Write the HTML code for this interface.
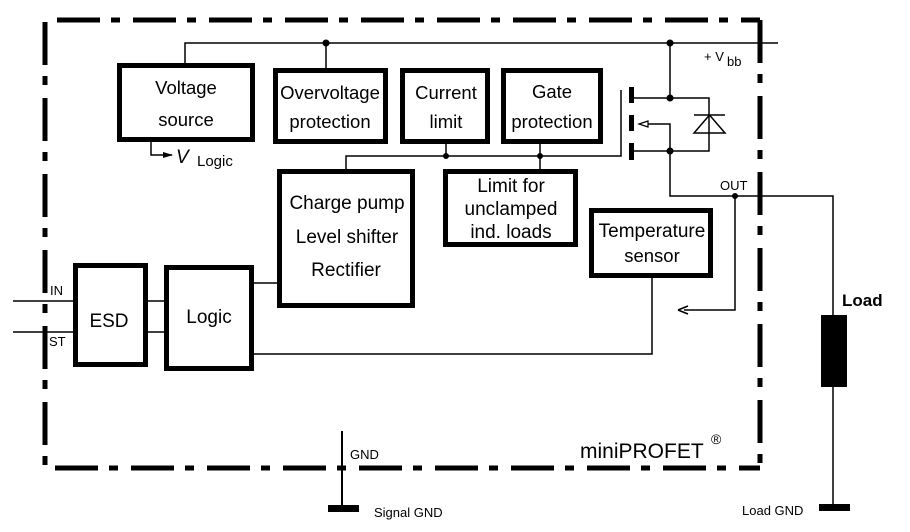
<!DOCTYPE html>
<html><head><meta charset="utf-8"><style>
html,body{margin:0;padding:0;background:#fff;}
svg{display:block;}
text{font-family:"Liberation Sans",sans-serif;fill:#000;}
</style></head><body>
<svg width="910" height="532" viewBox="0 0 910 532" xmlns="http://www.w3.org/2000/svg">
<defs>
<marker id="ah" markerWidth="10" markerHeight="8" refX="9" refY="4" orient="auto" markerUnits="userSpaceOnUse">
<path d="M0,1 L10,4 L0,7 Z" fill="#000"/>
</marker>
</defs>
<g stroke="#000" stroke-width="5" fill="none" stroke-dasharray="43 11 9 13">
<line x1="57" y1="20" x2="760" y2="20"/>
<line x1="45" y1="22" x2="45" y2="468"/>
<line x1="760" y1="20" x2="760" y2="468"/>
<line x1="55" y1="468" x2="760" y2="468"/>
</g>
<g stroke="#000" stroke-width="1.5" fill="none">
<polyline points="185,63 185,43 778,43"/>
<line x1="326" y1="43" x2="326" y2="68"/>
<line x1="670" y1="43" x2="670" y2="98"/>
<polyline points="632,98 709,98 709,151 632,151"/>
<polyline points="641,124 670,124 670,196 833,196 833,507"/>
<line x1="694" y1="115" x2="725" y2="115"/>
<polygon points="694,133 725,133 709.5,115"/>
<polyline points="346,169 346,156 621,156 621,90"/>
<line x1="446" y1="144" x2="446" y2="156"/>
<line x1="540" y1="144" x2="540" y2="169"/>
<polyline points="735,196 735,310 684,310"/>
<polyline points="678,310 688,306" /><polyline points="678,310 688,314"/>
<polyline points="652,278 652,354 250,354"/>
<line x1="254" y1="283" x2="277" y2="283"/>
<line x1="13" y1="301" x2="73" y2="301"/>
<line x1="13" y1="332" x2="73" y2="332"/>
<line x1="148" y1="301" x2="164" y2="301"/>
<line x1="148" y1="332" x2="164" y2="332"/>
<polyline points="151,142 151,155 172,155" marker-end="url(#ah)"/>
</g>
<line x1="342" y1="431" x2="342" y2="508" stroke="#000" stroke-width="2"/>
<polygon points="639,124 648,121 648,127" fill="#fff" stroke="#000" stroke-width="1.2"/>
<g fill="#000">
<circle cx="326" cy="43" r="3.5"/>
<circle cx="670" cy="43" r="3.5"/>
<circle cx="670" cy="98" r="3.5"/>
<circle cx="670" cy="151" r="3.5"/>
<circle cx="446" cy="156" r="3"/>
<circle cx="540" cy="156" r="3"/>
<circle cx="735" cy="196" r="3"/>
<rect x="629" y="87" width="5" height="16"/>
<rect x="629" y="115" width="5" height="16"/>
<rect x="629" y="143" width="5" height="17"/>
<rect x="328" y="505" width="31" height="7"/>
<rect x="819" y="504" width="31" height="7"/>
<rect x="821" y="315" width="26" height="72"/>
</g>
<g fill="#fff" stroke="#000" stroke-width="5">
<rect x="119.5" y="65.5" width="133" height="74"/>
<rect x="275.5" y="70.5" width="110" height="71"/>
<rect x="402.5" y="70.5" width="85" height="71"/>
<rect x="503.5" y="70.5" width="97" height="71"/>
<rect x="279.5" y="171.5" width="133" height="134"/>
<rect x="445.5" y="171.5" width="130" height="73"/>
<rect x="591.5" y="210.5" width="119" height="65"/>
<rect x="75.5" y="265.5" width="70" height="99"/>
<rect x="166.5" y="267.5" width="85" height="101"/>
</g>
<g font-size="18.5" text-anchor="middle">
<text x="186" y="94">Voltage</text>
<text x="186" y="126">source</text>
<text x="330" y="99">Overvoltage</text>
<text x="330" y="128">protection</text>
<text x="446" y="99">Current</text>
<text x="446" y="128">limit</text>
<text x="552" y="98">Gate</text>
<text x="552" y="128">protection</text>
<text x="347" y="209" font-size="19">Charge pump</text>
<text x="347" y="243" font-size="19">Level shifter</text>
<text x="346" y="276" font-size="19">Rectifier</text>
<text x="511" y="192" font-size="19">Limit for</text>
<text x="511" y="215" font-size="19">unclamped</text>
<text x="511" y="238" font-size="19">ind. loads</text>
<text x="652" y="237" font-size="19">Temperature</text>
<text x="652" y="262">sensor</text>
<text x="109" y="327" font-size="19">ESD</text>
<text x="209" y="323" font-size="19">Logic</text>
</g>
<text x="176" y="163" font-size="19" font-style="italic">V</text>
<text x="197" y="166" font-size="15">Logic</text>
<text x="704" y="61" font-size="13">+ V</text>
<text x="727" y="66" font-size="13">bb</text>
<text x="720" y="190" font-size="13">OUT</text>
<text x="50" y="295" font-size="13">IN</text>
<text x="49" y="346" font-size="13">ST</text>
<text x="842" y="306" font-size="17" font-weight="bold">Load</text>
<text x="742" y="515" font-size="13">Load GND</text>
<text x="350" y="459" font-size="13">GND</text>
<text x="374" y="517" font-size="13">Signal GND</text>
<text x="580" y="458" font-size="21">miniPROFET</text>
<text x="711" y="444" font-size="14">®</text>
</svg>
</body></html>
